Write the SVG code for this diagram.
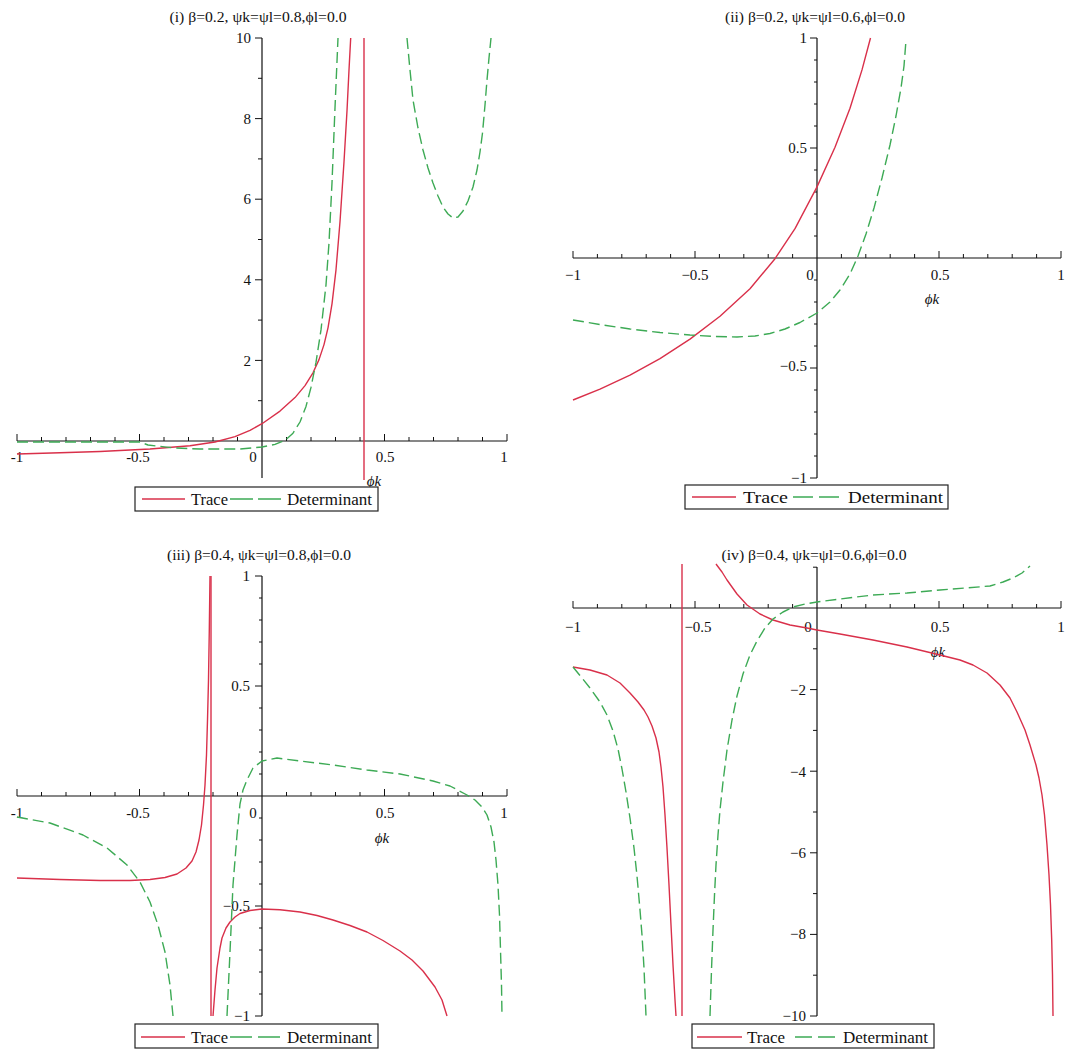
<svg xmlns="http://www.w3.org/2000/svg" width="1071" height="1051" viewBox="0 0 1071 1051">
<style>
text{font-family:"Liberation Serif","Times New Roman",serif;fill:#111}
.t{font-size:14px;text-anchor:middle}
.l{font-size:15px}
.e{text-anchor:end}
.m{text-anchor:middle}
.ax{stroke:#111;stroke-width:1.2;fill:none}
.tk{stroke:#111;stroke-width:1;fill:none}
.tr{stroke:#d9304a;stroke-width:1.4;fill:none;stroke-linejoin:round}
.de{stroke:#3daa55;stroke-width:1.4;fill:none;stroke-dasharray:11 5;stroke-linejoin:round}
.lg{fill:#fff;stroke:#222;stroke-width:1.2}
.lt{font-size:17px}
.xl{font-size:15px;font-style:italic;text-anchor:middle}
</style>
<rect width="1071" height="1051" fill="#fff"/>

<!-- Panel (i) -->
<g id="panel-i">
<text class="t" x="258" y="22" textLength="177" lengthAdjust="spacingAndGlyphs">(i) β=0.2, ψk=ψl=0.8,ϕl=0.0</text>
<path class="ax" d="M17 441H507M262 38V478"/>
<path class="tk" d="M17 441v-7M41.5 441v-4M66 441v-4M90.5 441v-4M115 441v-4M139.5 441v-7M164 441v-4M188.5 441v-4M213 441v-4M237.5 441v-4M286.5 441v-4M311 441v-4M335.5 441v-4M360 441v-4M384.5 441v-7M409 441v-4M433.5 441v-4M458 441v-4M482.5 441v-4M507 441v-7M262 38h-7M262 78.3h-4M262 118.6h-7M262 158.9h-4M262 199.2h-7M262 239.5h-4M262 279.8h-7M262 320.1h-4M262 360.4h-7M262 400.7h-4"/>
<text class="l e" x="251" y="43">10</text>
<text class="l e" x="251" y="124">8</text>
<text class="l e" x="251" y="204">6</text>
<text class="l e" x="251" y="285">4</text>
<text class="l e" x="251" y="366">2</text>
<text class="l m" x="17" y="462">-1</text>
<text class="l m" x="138" y="462">-0.5</text>
<text class="l m" x="253" y="462">0</text>
<text class="l m" x="385" y="462">0.5</text>
<text class="l m" x="504" y="462">1</text>
<text class="xl" x="374" y="486">ϕk</text>
</g>
<g id="curves-i">
<path class="tr" d="M364 38V480"/>
<polyline class="tr" points="17,454 60,452.7 100,451.5 150,449 190,445.8 215,442 235,436.6 250,430.3 262,423.7 280,411.1 295,397.6 305,385.6 313,372.8 319,359.6 324,344.6 328,327.8 332,303.8 336,269.8 340,221.8 344,161.8 347,110.8 349,70 350.7,38"/>
<polyline class="de" points="17,442 140,442 148,445 175,448 200,449 240,449 262,447 275,444.4 285,440.4 293,433.2 300,422 306,406.4 311,387.4 316,362.4 321,329.9 326,284.9 329,242.9 332,182.9 335,107.9 338,38"/>
<polyline class="de" points="407,38 410,70 413,100 418,128 423,150 428,168 433,183 438,196 443,207 448,214 453,218 458,217 463,211 468,201 473,187 477,170 480,152 482.5,133 485,105 487,80 489,58 491,38"/>
</g>
<g id="legend-i">
<rect class="lg" x="135" y="487" width="243" height="24"/>
<line class="tr" x1="142" y1="499" x2="185" y2="499"/>
<text class="lt" x="191" y="505" textLength="37" lengthAdjust="spacingAndGlyphs">Trace</text>
<line class="de" x1="230" y1="499" x2="285" y2="499" style="stroke-dasharray:23 5"/>
<text class="lt" x="287" y="505" textLength="85" lengthAdjust="spacingAndGlyphs">Determinant</text>
</g>

<!-- Panel (ii) -->
<g id="panel-ii">
<text class="t" x="815" y="22" textLength="180" lengthAdjust="spacingAndGlyphs">(ii) β=0.2, ψk=ψl=0.6,ϕl=0.0</text>
<path class="ax" d="M573 258H1061M817 38V478"/>
<path class="tk" d="M573 258v-7M597.4 258v-4M621.8 258v-4M646.2 258v-4M670.6 258v-4M695 258v-7M719.4 258v-4M743.8 258v-4M768.2 258v-4M792.6 258v-4M841.4 258v-4M865.8 258v-4M890.2 258v-4M914.6 258v-4M939 258v-7M963.4 258v-4M987.8 258v-4M1012.2 258v-4M1036.6 258v-4M1061 258v-7M817 38h-7M817 60h-3M817 82h-3M817 104h-3M817 126h-3M817 148h-7M817 170h-3M817 192h-3M817 214h-3M817 236h-3M817 280h-3M817 302h-3M817 324h-3M817 346h-3M817 368h-7M817 390h-3M817 412h-3M817 434h-3M817 456h-3M817 478h-7"/>
<text class="l e" x="807" y="43">1</text>
<text class="l e" x="807" y="153">0.5</text>
<text class="l e" x="807" y="371">−0.5</text>
<text class="l e" x="807" y="483">−1</text>
<text class="l m" x="573" y="280">−1</text>
<text class="l m" x="695" y="280">−0.5</text>
<text class="l m" x="810" y="280">0</text>
<text class="l m" x="940" y="280">0.5</text>
<text class="l m" x="1061" y="280">1</text>
<text class="xl" x="932" y="304">ϕk</text>
</g>
<g id="curves-ii">
<polyline class="tr" points="573,400 600,389.2 630,375.1 660,358.6 690,339.1 720,316.3 750,288.7 775,258.7 795,228.7 817,186.9 835,147.3 850,108.3 862,69.9 870.5,38"/>
<polyline class="de" points="573,320 600,324.5 630,329 660,332.5 690,335 715,336.5 737,337 755,336 770,333.5 785,329 800,322.5 817,313 830,302 840,290 850,274 858,256 866,234 874,208 882,178 890,145 896,116 901,88 904,66 906,40"/>
</g>
<g id="legend-ii">
<rect class="lg" x="685" y="485" width="263" height="24"/>
<line class="tr" x1="692" y1="497" x2="736" y2="497"/>
<text class="lt" x="743" y="503" textLength="45" lengthAdjust="spacingAndGlyphs">Trace</text>
<line class="de" x1="793" y1="497" x2="842" y2="497" style="stroke-dasharray:20 6"/>
<text class="lt" x="848" y="503" textLength="95" lengthAdjust="spacingAndGlyphs">Determinant</text>
</g>

<!-- Panel (iii) -->
<g id="panel-iii">
<text class="t" x="259" y="560" textLength="184" lengthAdjust="spacingAndGlyphs">(iii) β=0.4, ψk=ψl=0.8,ϕl=0.0</text>
<path class="ax" d="M17 796H507M262 576V1016"/>
<path class="tk" d="M17 796v-7M41.5 796v-4M66 796v-4M90.5 796v-4M115 796v-4M139.5 796v-7M164 796v-4M188.5 796v-4M213 796v-4M237.5 796v-4M286.5 796v-4M311 796v-4M335.5 796v-4M360 796v-4M384.5 796v-7M409 796v-4M433.5 796v-4M458 796v-4M482.5 796v-4M507 796v-7M262 576h-7M262 598h-3M262 620h-3M262 642h-3M262 664h-3M262 686h-7M262 708h-3M262 730h-3M262 752h-3M262 774h-3M262 818h-3M262 840h-3M262 862h-3M262 884h-3M262 906h-7M262 928h-3M262 950h-3M262 972h-3M262 994h-3M262 1016h-7"/>
<text class="l e" x="250" y="581">1</text>
<text class="l e" x="250" y="691">0.5</text>
<text class="l e" x="250" y="911">−0.5</text>
<text class="l e" x="250" y="1021">−1</text>
<text class="l m" x="17" y="818">-1</text>
<text class="l m" x="138" y="818">-0.5</text>
<text class="l m" x="253" y="818">0</text>
<text class="l m" x="385" y="818">0.5</text>
<text class="l m" x="504" y="818">1</text>
<text class="xl" x="382" y="843">ϕk</text>
</g>
<g id="curves-iii">
<path class="tr" d="M211 576V1016"/>
<polyline class="tr" points="17,878 60,879.5 100,880.5 130,880.5 150,879.5 165,877.5 177,874 186,868 192,861 196,852 199,840 201.5,825 203.5,805 205,785 206.5,755 207.5,720 208.5,680 209.3,630 210,576"/>
<polyline class="tr" points="213,1016 215,990 217,968 220,948 222,938 226,928 230,922 235,917 240,913.5 250,910.5 262,909 280,909.8 300,912 317,915.5 333,920 350,925.5 367,932 383,940.5 400,951 412,960 423,971 435,987 442,1000 447,1016"/>
<polyline class="de" points="17,817 50,823 83,835 107,848 127,865 140,882 150,902 158,925 165,952 170,985 173,1016"/>
<polyline class="de" points="227,1016 230,952 233,885 237,835 240,804 243,790 247,780 253,768 262,761 277,758 300,761 333,765 367,770 400,774 433,781 450,786 467,795 475,800 482,807 487,815 491,827 494,842 496,860 498,885 499.5,915 500.5,950 501.5,985 502,1016"/>
</g>
<g id="legend-iii">
<rect class="lg" x="135" y="1024" width="243" height="24"/>
<line class="tr" x1="141" y1="1037" x2="185" y2="1037"/>
<text class="lt" x="191" y="1043" textLength="37" lengthAdjust="spacingAndGlyphs">Trace</text>
<line class="de" x1="230" y1="1037" x2="283" y2="1037" style="stroke-dasharray:22 6"/>
<text class="lt" x="287" y="1043" textLength="85" lengthAdjust="spacingAndGlyphs">Determinant</text>
</g>

<!-- Panel (iv) -->
<g id="panel-iv">
<text class="t" x="814" y="560" textLength="185" lengthAdjust="spacingAndGlyphs">(iv) β=0.4, ψk=ψl=0.6,ϕl=0.0</text>
<path class="ax" d="M573 608H1061M817 567V1016"/>
<path class="tk" d="M573 608v-7M597.4 608v-4M621.8 608v-4M646.2 608v-4M670.6 608v-4M695 608v-7M719.4 608v-4M743.8 608v-4M768.2 608v-4M792.6 608v-4M841.4 608v-4M865.8 608v-4M890.2 608v-4M914.6 608v-4M939 608v-7M963.4 608v-4M987.8 608v-4M1012.2 608v-4M1036.6 608v-4M1061 608v-7M817 567.2h-4M817 648.8h-4M817 689.6h-7M817 730.4h-4M817 771.2h-7M817 812h-4M817 852.8h-7M817 893.6h-4M817 934.4h-7M817 975.2h-4M817 1016h-7"/>
<text class="l e" x="806" y="695">−2</text>
<text class="l e" x="806" y="777">−4</text>
<text class="l e" x="806" y="858">−6</text>
<text class="l e" x="806" y="939">−8</text>
<text class="l e" x="806" y="1021">−10</text>
<text class="l m" x="573" y="632">−1</text>
<text class="l m" x="698" y="632">−0.5</text>
<text class="l m" x="808" y="632">0</text>
<text class="l m" x="940" y="632">0.5</text>
<text class="l m" x="1061" y="632">1</text>
<text class="xl" x="938" y="657">ϕk</text>
</g>
<g id="curves-iv">
<path class="tr" d="M682 564V1016"/>
<polyline class="tr" points="573,667 590,670 607,675 620,683 630,693 638,702 644,710 648,717 652,726 656,738 659,752 661,767 663,787 665,815 667,848 669,885 671,925 673,965 675,1000 676,1016"/>
<polyline class="tr" points="716,564 722,572 727,580 737,594 747,605 760,614 773,620 790,625 807,628 817,630 840,634 873,640 907,647 940,655 960,660 973,665 987,673 1000,685 1010,698 1017,712 1025,730 1030,745 1036,765 1039,778 1042,795 1044.5,815 1047,845 1049,875 1050.5,905 1051.7,940 1052.5,975 1053,1016"/>
<polyline class="de" points="573,667 582,678 590,688 600,702 607,715 613,731 618,749 622,769 626,792 630,818 634,848 637,876 640,910 642,935 644,968 646,1016"/>
<polyline class="de" points="710,1016 711.5,970 713,930 714.5,895 716,865 718,835 720,810 723,782 727,750 732,720 737,696 743,674 750,655 757,641 765,628 773,619 783,612 793,607 805,604 817,602 840,599 873,595 907,593 940,590 965,588 990,586 1003,582 1013,578 1022,573 1030,566"/>
</g>
<g id="legend-iv">
<rect class="lg" x="692" y="1024" width="242" height="24"/>
<line class="tr" x1="697" y1="1037" x2="742" y2="1037"/>
<text class="lt" x="747" y="1043" textLength="38" lengthAdjust="spacingAndGlyphs">Trace</text>
<line class="de" x1="795" y1="1037" x2="838" y2="1037" style="stroke-dasharray:17 6"/>
<text class="lt" x="843" y="1043" textLength="85" lengthAdjust="spacingAndGlyphs">Determinant</text>
</g>
</svg>
